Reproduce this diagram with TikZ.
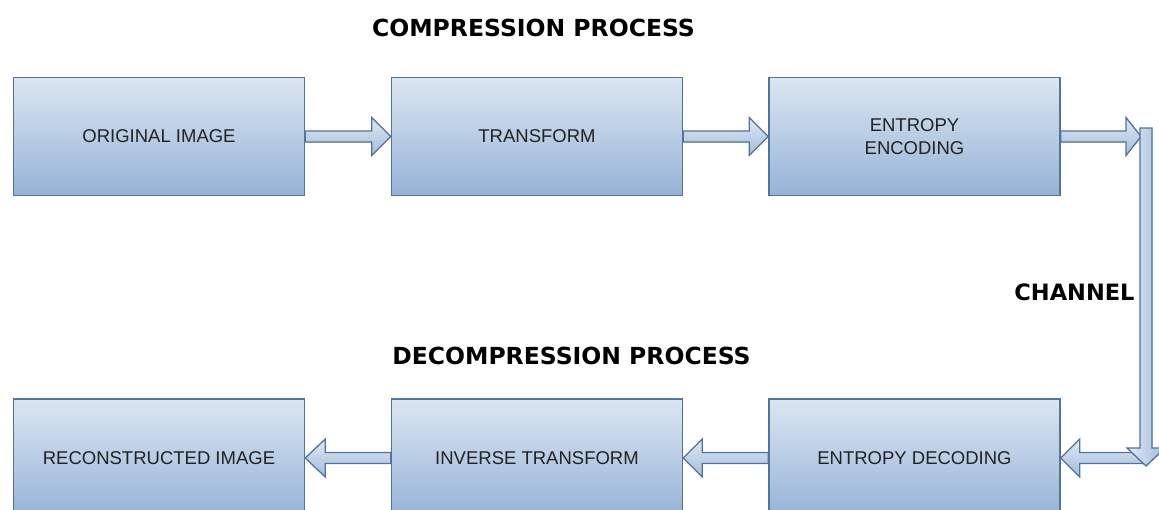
\documentclass[tikz,border=0pt]{standalone}
\usepackage{fontspec}
\setmainfont{Liberation Sans}
\newfontfamily\headfont{DejaVu Sans}
\usetikzlibrary{calc}
\definecolor{boxtop}{HTML}{DCE6F2}
\definecolor{boxbot}{HTML}{95B3D7}
\definecolor{arrtop}{HTML}{DFE8F3}
\definecolor{arrbot}{HTML}{A3BCDC}
\definecolor{edge}{HTML}{52739A}
\definecolor{labelgray}{HTML}{222222}

% horizontal block arrow: shaft from #1, tip at #2, #3 = head offset back from the tip
\newcommand\hblock[3]{%
  \filldraw[barrow] ($(#1)+(0,-5.5)$) -- ($(#2)+(#3,-5.5)$) -- ($(#2)+(#3,-19)$)
    -- (#2) -- ($(#2)+(#3,19)$) -- ($(#2)+(#3,5.5)$) -- ($(#1)+(0,5.5)$) -- cycle;}

\begin{document}
\begin{tikzpicture}[x=1pt,y=-1pt,
  block/.style={draw=edge, line width=1.5pt, top color=boxtop, bottom color=boxbot,
    minimum width=291pt, minimum height=118pt, inner sep=0pt, text=labelgray,
    font=\fontsize{18.5}{23}\selectfont, align=center},
  heading/.style={font=\headfont\bfseries\fontsize{23.5}{28}\selectfont, inner sep=0pt},
  barrow/.style={draw=edge, line width=1.3pt, top color=arrtop, bottom color=arrbot, line join=miter},
  vbarrow/.style={draw=edge, line width=1.3pt, left color=arrtop, right color=arrbot, line join=miter}]
\useasboundingbox (0,0) rectangle (1159,509);
\clip (0,0) rectangle (1159,509);

% headings
\node[heading] (comp) at (533.5,27.5) {COMPRESSION PROCESS};
\node[heading] (decomp) at (571.5,355.5) {DECOMPRESSION PROCESS};
\node[heading, font=\headfont\bfseries\fontsize{22.5}{27}\selectfont] (chan) at (1074.5,292.5) {CHANNEL};

% compression row
\node[block] (orig) at (159,136.5) {ORIGINAL IMAGE};
\node[block] (trans) at (537,136.5) {TRANSFORM};
\node[block] (enc) at (914.5,136.5) {ENTROPY\\ENCODING};

% decompression row
\node[block] (recon) at (159,458) {RECONSTRUCTED IMAGE};
\node[block] (itrans) at (537,458) {INVERSE TRANSFORM};
\node[block] (dec) at (914.5,458) {ENTROPY DECODING};

% channel end points
\coordinate (chin) at (1141,136.5);
\coordinate (chtop) at (1146,128);
\coordinate (chturn) at (1146,448);
\coordinate (chtip) at (1146,466);
\coordinate (chout) at (1146,458);

% forward arrows
\hblock{orig.east}{trans.west}{-19}
\hblock{trans.east}{enc.west}{-19}
\hblock{enc.east}{chin}{-15}

% backward arrows
\hblock{chout}{dec.east}{19}
\hblock{dec.west}{itrans.east}{19}
\hblock{itrans.west}{recon.east}{20}

% channel: vertical bar ending in a downward head
\filldraw[vbarrow] ($(chtop)+(-6,0)$) -- ($(chtop)+(6,0)$) -- ($(chturn)+(6,0)$)
  -- ($(chturn)+(19,0)$) -- (chtip) -- ($(chturn)+(-19,0)$) -- ($(chturn)+(-6,0)$) -- cycle;
\end{tikzpicture}
\end{document}
